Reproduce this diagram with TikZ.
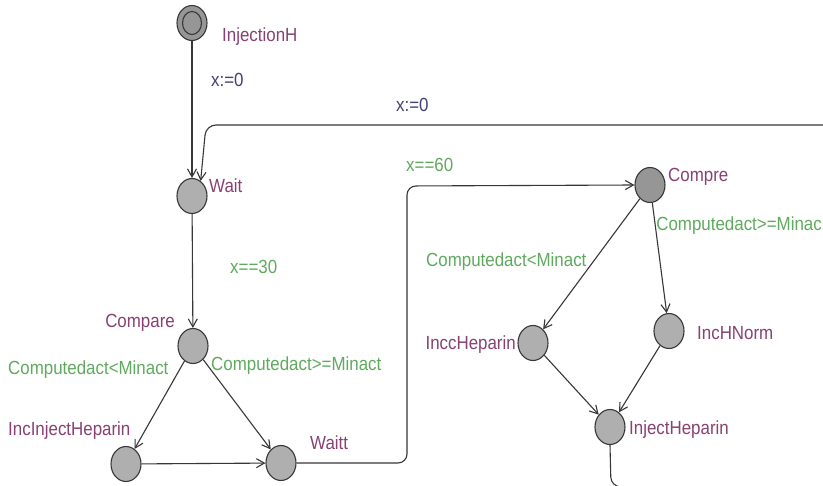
\documentclass[tikz,border=0pt]{standalone}
\usepackage{fontspec}
\setmainfont[FakeStretch=0.89]{Liberation Sans}
\usetikzlibrary{arrows.meta,shapes.geometric}
\definecolor{locc}{RGB}{135,65,115}
\definecolor{grdc}{RGB}{95,170,95}
\definecolor{asgc}{RGB}{65,65,115}
\definecolor{edgc}{RGB}{55,55,55}
\definecolor{fillc}{RGB}{175,175,175}
\definecolor{filld}{RGB}{150,150,150}
\begin{document}
\begin{tikzpicture}[x=1pt,y=-1pt,
  state/.style={ellipse, draw=edgc, fill=fillc, line width=1.1pt, minimum width=30pt, minimum height=35pt, inner sep=0pt},
  darkstate/.style={state, fill=filld},
  lbl/.style={font=\fontsize{19}{22}\selectfont, inner sep=0pt},
  locname/.style={lbl, text=locc},
  guard/.style={lbl, text=grdc},
  assign/.style={lbl, text=asgc},
  edge/.style={draw=edgc, line width=1.1pt, -{Straight Barb[length=8pt,width=9pt]}},
  plain/.style={draw=edgc, line width=1.1pt}
]
\useasboundingbox (0,0) rectangle (823,486);
\path[clip] (0,0) rectangle (823,486);
\fill[white] (0,0) rectangle (823,486);

% states
\node[darkstate] (injH) at (192,23) {};
\node[ellipse, draw=edgc, line width=1.1pt, minimum width=19pt, minimum height=23pt, inner sep=0pt] (injHin) at (192,23) {};
\node[state] (wait) at (192,196) {};
\node[state] (compare) at (193,346) {};
\node[state] (incinj) at (126,464) {};
\node[state] (waitt) at (281,463) {};
\node[darkstate] (compre) at (650,185) {};
\node[state] (incc) at (533,343) {};
\node[state] (inchn) at (669,331) {};
\node[state] (injhep) at (610,427) {};

% free ends
\coordinate (rin) at (830,125);
\coordinate (bout) at (660,487);

% edges
\draw[edge] (injH) -- (wait);
\draw[edge, rounded corners=10pt] (rin) -- (206,125) -- (wait.60);
\draw[edge] (wait) -- (compare);
\draw[edge] (compare) -- (incinj);
\draw[edge] (compare) -- (waitt);
\draw[edge] (incinj) -- (waitt);
\draw[edge, rounded corners=9pt] (waitt.east) -- (407,463) -- (407,186) -- (compre.west);
\draw[edge] (compre) -- (incc);
\draw[edge] (compre) -- (inchn);
\draw[edge] (incc) -- (injhep);
\draw[edge] (inchn) -- (injhep);
\draw[plain, rounded corners=10pt] (injhep.south) -- (611,487) -- (bout);

% labels
\node[locname, anchor=west] (tInjH) at (222,37) {InjectionH};
\node[assign, anchor=west] (a1) at (211,80) {x:=0};
\node[assign, anchor=west] (a2) at (396,105) {x:=0};
\node[locname, anchor=west] (tWait) at (209,186) {Wait};
\node[guard, anchor=west] (g1) at (230,267) {x==30};
\node[locname, anchor=east] (tCompare) at (175,323) {Compare};
\node[guard, anchor=west] (g2) at (8,370) {Computedact<Minact};
\node[guard, anchor=west] (g3) at (211,366) {Computedact>=Minact};
\node[locname, anchor=west] (tIncInj) at (8,431) {IncInjectHeparin};
\node[locname, anchor=west] (tWaitt) at (310,443) {Waitt};
\node[guard, anchor=west] (g4) at (406,165) {x==60};
\node[locname, anchor=west] (tCompre) at (668,177) {Compre};
\node[guard, anchor=east] (g5) at (822,226) {Computedact>=Minac};
\node[guard, anchor=west] (g6) at (426,262) {Computedact<Minact};
\node[locname, anchor=east] (tIncc) at (516,345) {InccHeparin};
\node[locname, anchor=west] (tIncHN) at (697,333) {IncHNorm};
\node[locname, anchor=west] (tInjHep) at (629,430) {InjectHeparin};
\end{tikzpicture}
\end{document}
